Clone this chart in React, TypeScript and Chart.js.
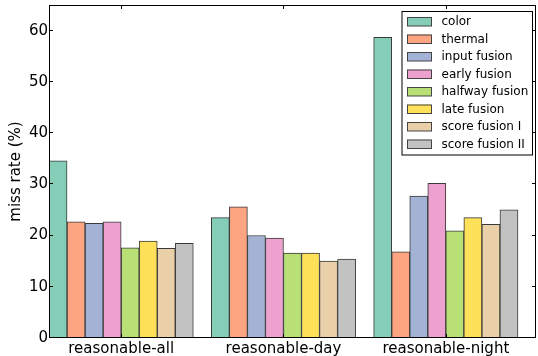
import React, { useEffect, useRef } from "react";
import { Chart, registerables } from "chart.js";

Chart.register(...registerables);

const categories = ["reasonable-all", "reasonable-day", "reasonable-night"];
const seriesNames = [
  "color",
  "thermal",
  "input fusion",
  "early fusion",
  "halfway fusion",
  "late fusion",
  "score fusion I",
  "score fusion II",
];
const colorValues = [34.6, 23.5, 58.7];
const thermalValues = [22.7, 25.6, 16.8];
const inputFusionValues = [22.4, 20.0, 27.7];
const earlyFusionValues = [22.7, 19.5, 30.2];
const halfwayFusionValues = [17.6, 16.6, 20.9];
const lateFusionValues = [18.9, 16.6, 23.5];
const scoreFusionIValues = [17.5, 15.0, 22.2];
const scoreFusionIIValues = [18.5, 15.4, 25.0];
const seriesColors = [
  "#84ceb7",
  "#fda481",
  "#a4b3d5",
  "#eca1cf",
  "#b8e076",
  "#ffe159",
  "#ead0a9",
  "#c2c2c2",
];
const yTicks = [0, 10, 20, 30, 40, 50, 60];
const yMax = 65;

const FONT = "DejaVu Sans";

const framePlugin = {
  id: "frameTicksLegend",
  afterDatasetsDraw(chart: any) {
    const { ctx, chartArea } = chart;
    const { left, right, top, bottom } = chartArea;
    const yScale = chart.scales.y;
    ctx.save();
    ctx.strokeStyle = "#000";
    ctx.lineWidth = 1;
    // frame
    ctx.strokeRect(left + 0.5, top + 0.5, right - left - 1, bottom - top - 1);
    // y ticks (left and right, inward)
    const tl = 4;
    ctx.beginPath();
    for (const v of yTicks) {
      const py = Math.round(yScale.getPixelForValue(v)) - 0.5;
      ctx.moveTo(left, py);
      ctx.lineTo(left + tl, py);
      ctx.moveTo(right, py);
      ctx.lineTo(right - tl, py);
    }
    // x ticks at group centers (top and bottom)
    const meta = chart.getDatasetMeta(3);
    meta.data.forEach((bar: any) => {
      const px = Math.round(bar.x + bar.width / 2) + 0.5;
      ctx.moveTo(px, top);
      ctx.lineTo(px, top + tl);
      ctx.moveTo(px, bottom);
      ctx.lineTo(px, bottom - tl);
    });
    ctx.stroke();

    // legend
    const boxRight = right - 3.5;
    const boxLeft = boxRight - 130.5;
    const boxTop = top + 6.5;
    const rowH = 17.5;
    const n = seriesNames.length;
    const boxBottom = boxTop + 10 + (n - 1) * rowH + 11;
    ctx.fillStyle = "#fff";
    ctx.fillRect(boxLeft, boxTop, boxRight - boxLeft, boxBottom - boxTop);
    ctx.strokeStyle = "#000";
    ctx.strokeRect(boxLeft, boxTop, boxRight - boxLeft, boxBottom - boxTop);
    ctx.font = `12px "${FONT}"`;
    ctx.textBaseline = "middle";
    ctx.textAlign = "left";
    const datasets = chart.data.datasets;
    for (let i = 0; i < n; i++) {
      const ds = datasets[i];
      const cy = boxTop + 10 + i * rowH;
      ctx.fillStyle = ds.backgroundColor;
      ctx.fillRect(boxLeft + 5, cy - 4.5, 24, 9);
      ctx.strokeStyle = "#444";
      ctx.strokeRect(boxLeft + 5.5, cy - 4, 24, 8.5);
      ctx.fillStyle = "#000";
      ctx.fillText(ds.label, boxLeft + 39.5, cy + 0.5);
    }
    ctx.restore();
  },
};

export default function App() {
  const canvasRef = useRef<HTMLCanvasElement | null>(null);

  useEffect(() => {
    document.body.style.margin = "0";
    const canvas = canvasRef.current;
    if (!canvas) return;
    const seriesValues = [
      colorValues,
      thermalValues,
      inputFusionValues,
      earlyFusionValues,
      halfwayFusionValues,
      lateFusionValues,
      scoreFusionIValues,
      scoreFusionIIValues,
    ];
    const datasets: any[] = seriesNames.map((name, i) => ({
      label: name,
      data: seriesValues[i],
      backgroundColor: seriesColors[i],
      borderColor: "#3a3a3a",
      borderWidth: 1,
      borderSkipped: "bottom",
      categoryPercentage: 1,
      barPercentage: 1,
    }));
    // empty spacer slot to leave the gap after each group
    datasets.push({
      label: "",
      data: categories.map(() => 0),
      backgroundColor: "rgba(0,0,0,0)",
      borderWidth: 0,
      categoryPercentage: 1,
      barPercentage: 1,
    });

    const chart = new Chart(canvas, {
      type: "bar",
      data: { labels: categories, datasets },
      plugins: [framePlugin],
      options: {
        responsive: false,
        animation: false,
        devicePixelRatio: 1,
        layout: { padding: { top: 5, right: 2, left: 0, bottom: 0 } },
        plugins: {
          legend: { display: false },
          tooltip: { enabled: false },
        },
        scales: {
          x: {
            type: "category",
            offset: true,
            grid: { display: false, drawTicks: false },
            border: { display: false },
            ticks: {
              color: "#000",
              font: { family: FONT, size: 15 },
              padding: 2,
              labelOffset: -9,
              maxRotation: 0,
              autoSkip: false,
            },
            afterFit: (scale: any) => {
              scale.height = 18;
              scale.paddingLeft = 0;
              scale.paddingRight = 0;
            },
          },
          y: {
            type: "linear",
            min: 0,
            max: yMax,
            grid: { display: false, drawTicks: false },
            border: { display: false },
            ticks: {
              stepSize: 10,
              includeBounds: false,
              color: "#000",
              font: { family: FONT, size: 15 },
              padding: 1,
            },
            title: {
              display: true,
              text: "miss rate (%)",
              color: "#000",
              font: { family: FONT, size: 15 },
              padding: { top: 7, bottom: 0 },
            },
            afterFit: (scale: any) => {
              scale.width = 49;
              scale.paddingTop = 0;
              scale.paddingBottom = 0;
            },
          },
        },
      },
    });
    return () => chart.destroy();
  }, []);

  return (
    <div style={{ width: 538, height: 356 }}>
      <canvas ref={canvasRef} width={538} height={356} style={{ display: "block" }} />
    </div>
  );
}
